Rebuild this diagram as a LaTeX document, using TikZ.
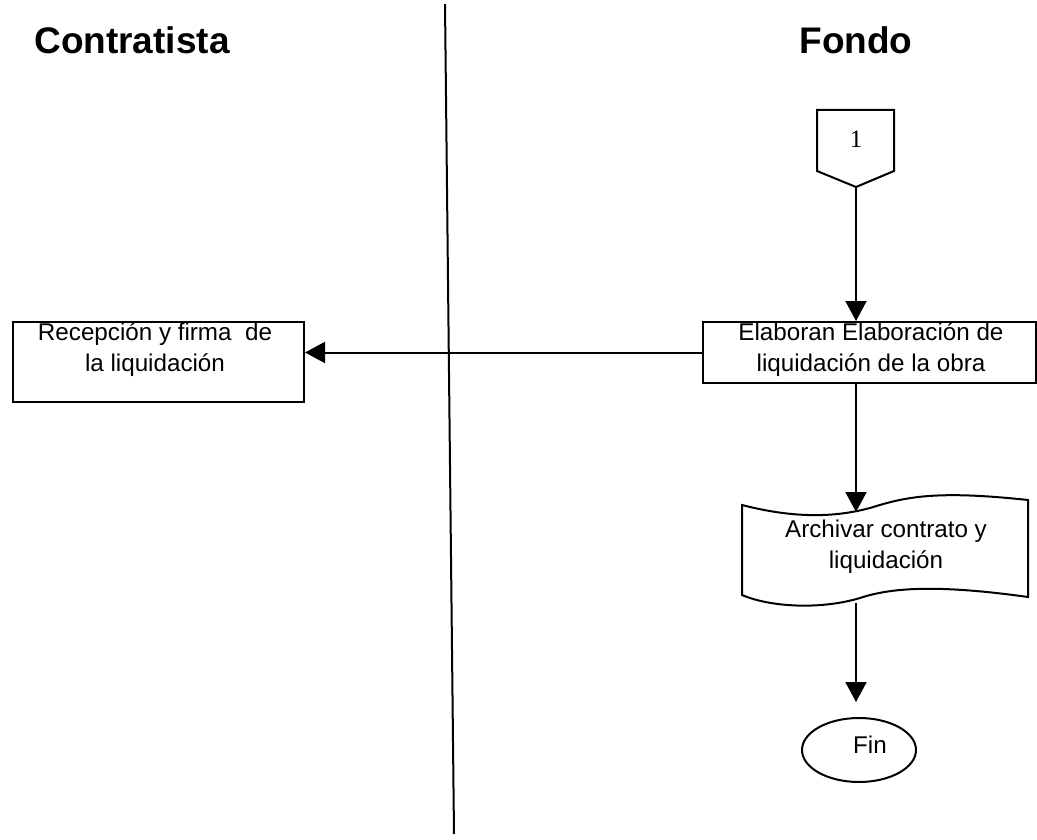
\documentclass[tikz,border=0pt]{standalone}
\usepackage{fontspec}
\setmainfont{Liberation Sans}
\newfontfamily\serifone{Liberation Serif}
\usetikzlibrary{arrows.meta,shapes.geometric}
\begin{document}
\begin{tikzpicture}[x=1pt,y=-1pt,
  line width=2pt,
  box/.style={draw,rectangle,inner sep=0pt},
  lbl/.style={align=center,inner sep=0pt,font=\fontsize{24.2}{31}\selectfont},
  hdr/.style={inner sep=0pt,font=\fontsize{37}{42}\selectfont\bfseries},
  arr/.style={-{Triangle[length=20pt,width=21pt]}}]
\useasboundingbox (0,0) rectangle (1037,840);
% headers
\node[hdr] (h1) at (132,40) {Contratista};
\node[hdr] (h2) at (856,40) {Fondo};
% divider
\coordinate (divtop) at (445,4);
\coordinate (divbot) at (454,834);
\draw (divtop) -- (divbot);
% off-page connector
\draw (817,110) -- (894,110) -- (894,171) -- (856,187) -- (817,171) -- cycle;
\coordinate (conbot) at (856,187);
\node[inner sep=0pt,font=\fontsize{25}{28}\serifone] (one) at (856,139) {1};
% Elaboran box
\node[box,minimum width=333pt,minimum height=61pt,anchor=north west] (elab) at (702,321) {};
\node[lbl] (elabt) at (871,350) {Elaboran Elaboración de\\liquidación de la obra};
% Recepcion box
\node[box,minimum width=291pt,minimum height=80pt,anchor=north west] (rec) at (12,321) {};
\node[lbl] (rect) at (155,349.5) {Recepción y firma~ de\\la liquidación};
% document
\draw (742,505) .. controls (800,520) and (840,516) .. (870,508)
  .. controls (905,497) and (935,490) .. (1028,500)
  -- (1028,597)
  .. controls (935,584) and (890,588) .. (860,598)
  .. controls (820,610) and (770,607) .. (742,595) -- cycle;
\coordinate (doctop) at (856,512);
\coordinate (docbot) at (856,603);
\node[lbl] (doct) at (886,547) {Archivar contrato y\\liquidación};
% Fin
\node[draw,ellipse,minimum width=114pt,minimum height=64pt,inner sep=0pt] (fin) at (859,750) {};
\node[lbl] (fint) at (870,745) {Fin};
% connectors
\draw[arr] (conbot) -- (elab.north west -| conbot);
\draw[arr] (elab.west) -- (rec.east |- elab.west);
\draw[arr] (elab.south west -| conbot) -- (doctop);
\draw[arr,shorten >=15pt] (docbot) -- (fin.north -| docbot);
\end{tikzpicture}
\end{document}
